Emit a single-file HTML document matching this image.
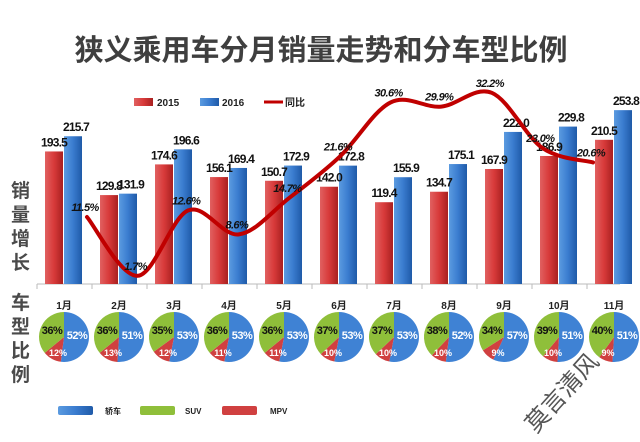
<!DOCTYPE html>
<html><head><meta charset="utf-8">
<style>
html,body{margin:0;padding:0;background:#fff;}
body{width:640px;height:437px;overflow:hidden;font-family:"Liberation Sans","Noto Sans CJK SC",sans-serif;}
svg text{font-family:"Liberation Sans","Noto Sans CJK SC",sans-serif;}
</style></head>
<body>
<svg id="chart" width="640" height="437" viewBox="0 0 640 437" xmlns="http://www.w3.org/2000/svg">
<defs>
<linearGradient id="gr" x1="0" x2="1"><stop offset="0" stop-color="#e06060"/><stop offset="0.5" stop-color="#d83a3a"/><stop offset="1" stop-color="#a82020"/></linearGradient>
<linearGradient id="gb" x1="0" x2="1"><stop offset="0" stop-color="#5b9be0"/><stop offset="0.5" stop-color="#3a7ccf"/><stop offset="1" stop-color="#1f5aa8"/></linearGradient>
</defs>
<text x="321" y="60" text-anchor="middle" font-size="29" font-weight="bold" fill="#3f3f3f">狭义乘用车分月销量走势和分车型比例</text>
<g>
<rect x="134" y="98" width="19" height="8" fill="url(#gr)"/>
<text x="157" y="106" font-size="10" font-weight="bold" fill="#222">2015</text>
<rect x="200" y="98" width="19" height="8" fill="url(#gb)"/>
<text x="222" y="106" font-size="10" font-weight="bold" fill="#222">2016</text>
<line x1="264" y1="102" x2="283" y2="102" stroke="#c00000" stroke-width="3"/>
<text x="285" y="106" font-size="10" font-weight="bold" fill="#222">同比</text>
</g>
<g font-size="19" font-weight="bold" fill="#4a4a4a">
<text x="11" y="197">销</text><text x="11" y="221">量</text><text x="11" y="245">增</text><text x="11" y="269">长</text>
</g>
<g font-size="19" font-weight="bold" fill="#4a4a4a">
<text x="11" y="309">车</text><text x="11" y="333">型</text><text x="11" y="357">比</text><text x="11" y="381">例</text>
</g>
<line x1="37" y1="284" x2="620" y2="284" stroke="#bbb"/>
<g id="bars"></g><g id="line"></g><g id="pies"></g>
<g>
<rect x="58" y="406" width="35" height="9" rx="2" fill="url(#gb)"/><text x="105" y="414" font-size="8" font-weight="bold" fill="#222">轿车</text>
<rect x="140" y="406" width="35" height="9" rx="2" fill="#8fbf3a"/><text x="185" y="414" font-size="8" font-weight="bold" fill="#222">SUV</text>
<rect x="222" y="406" width="35" height="9" rx="2" fill="#d04040"/><text x="270" y="414" font-size="8" font-weight="bold" fill="#222">MPV</text>
</g>
<text x="0" y="0" font-size="24" fill="#555" transform="translate(536,434) rotate(-48)" font-family="'Noto Serif CJK SC',serif">莫言清风</text>
</svg>
<script>
const months=["1月","2月","3月","4月","5月","6月","7月","8月","9月","10月","11月"];
const sales2015=[193.5,129.8,174.6,156.1,150.7,142.0,119.4,134.7,167.9,186.9,210.5];
const sales2016=[215.7,131.9,196.6,169.4,172.9,172.8,155.9,175.1,222.0,229.8,253.8];
const yoy=[11.5,1.7,12.6,8.6,14.7,21.6,30.6,29.9,32.2,23.0,20.6];
const sedan=[52,51,53,53,53,53,53,52,57,51,51];
const suv=[36,36,35,36,36,37,37,38,34,39,40];
const mpv=[12,13,12,11,11,10,10,10,9,10,9];
const NS="http://www.w3.org/2000/svg";
const x0=37,step=55,base=284,sc=0.685;
const cx=i=>x0+step*i+27;
const yv=v=>base-v*sc;
const lx=i=>87+50.6*i;
const ly=v=>286-6*v;
function mk(tag,at,parent){const e=document.createElementNS(NS,tag);for(const k in at)e.setAttribute(k,at[k]);parent.appendChild(e);return e;}
const gb=document.getElementById('bars');
months.forEach((m,i)=>{
  const c=cx(i);
  let r=mk('rect',{x:c-19,y:yv(sales2015[i]),width:18,height:sales2015[i]*sc,fill:'url(#gr)'},gb);
  
  
  let b=mk('rect',{x:c,y:yv(sales2016[i]),width:18,height:sales2016[i]*sc,fill:'url(#gb)'},gb);
  
  
  let t1=mk('text',{x:c-10,y:yv(sales2015[i])-5,'text-anchor':'middle','font-size':12,'font-weight':'bold','letter-spacing':-0.8,fill:'#111'},gb);
  t1.textContent=sales2015[i].toFixed(1);
  
  
  let t2=mk('text',{x:c+12,y:yv(sales2016[i])-5,'text-anchor':'middle','font-size':12,'font-weight':'bold','letter-spacing':-0.8,fill:'#111'},gb);
  t2.textContent=sales2016[i].toFixed(1);
  
  
  let tk=mk('line',{x1:x0+step*i,y1:284,x2:x0+step*i,y2:289,stroke:'#bbb'},gb);
  
  
});
const gl=document.getElementById('line');
const pts=yoy.map((v,i)=>[lx(i),ly(v)]);
let d='M'+pts[0][0]+','+pts[0][1];
for(let i=0;i<pts.length-1;i++){
  const p0=pts[i-1]||pts[i],p1=pts[i],p2=pts[i+1],p3=pts[i+2]||p2;
  d+=' C'+(p1[0]+(p2[0]-p0[0])/6)+','+(p1[1]+(p2[1]-p0[1])/6)+' '+(p2[0]-(p3[0]-p1[0])/6)+','+(p2[1]-(p3[1]-p1[1])/6)+' '+p2[0]+','+p2[1];
}
const path=mk('path',{d:d,fill:'none',stroke:'#c00000','stroke-width':4,'stroke-linecap':'round'},gl);


yoy.forEach((v,i)=>{
  const t=mk('text',{x:lx(i)-2,y:ly(v)-6,'text-anchor':'middle','font-size':11,'font-weight':'bold','font-style':'italic','letter-spacing':-0.6,fill:'#111'},gl);
  t.textContent=v.toFixed(1)+'%';
  
  
});
const gp=document.getElementById('pies');
const R=25,pcy=337;
function arc(c,a0,a1){const p=a=>[c+R*Math.sin(a),pcy-R*Math.cos(a)];const s=p(a0),e=p(a1);return 'M'+c+','+pcy+' L'+s[0]+','+s[1]+' A'+R+','+R+' 0 '+((a1-a0)>Math.PI?1:0)+' 1 '+e[0]+','+e[1]+' Z';}
months.forEach((m,i)=>{
  const c=cx(i);
  const tot=sedan[i]+suv[i]+mpv[i];
  const a1=sedan[i]/tot*2*Math.PI,a2=a1+mpv[i]/tot*2*Math.PI;
  const ml=mk('text',{x:c,y:309,'text-anchor':'middle','font-size':10,'font-weight':'bold',fill:'#222'},gp);
  ml.textContent=m;
  
  
  const s1=mk('path',{d:arc(c,0,a1),fill:'#3f82d4'},gp);
  
  
  const s2=mk('path',{d:arc(c,a1,a2),fill:'#d04040'},gp);
  
  
  const s3=mk('path',{d:arc(c,a2,2*Math.PI),fill:'#8fbf3a'},gp);
  
  
  const l1=mk('text',{x:c+13,y:339,'text-anchor':'middle','font-size':11,'font-weight':'bold','letter-spacing':-0.5,fill:'#fff'},gp);
  l1.textContent=sedan[i]+'%';
  
  
  const l2=mk('text',{x:c-12,y:334,'text-anchor':'middle','font-size':11,'font-weight':'bold','letter-spacing':-0.5,fill:'#111'},gp);
  l2.textContent=suv[i]+'%';
  
  
  const l3=mk('text',{x:c-6,y:356,'text-anchor':'middle','font-size':9,'font-weight':'bold',fill:'#fff'},gp);
  l3.textContent=mpv[i]+'%';
  
  
});
</script>
</body></html>
